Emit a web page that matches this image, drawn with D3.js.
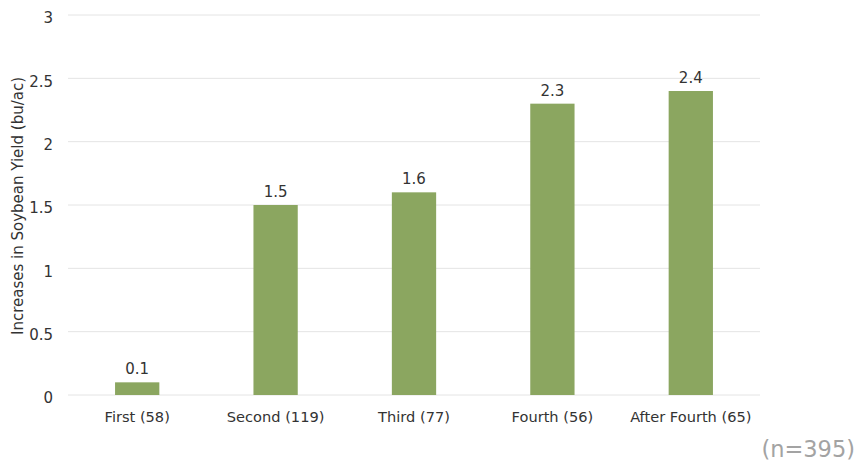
<!DOCTYPE html>
<html>
<head>
<meta charset="utf-8">
<script src="https://cdn.jsdelivr.net/npm/d3@7"></script>
<style>
  body { margin: 0; background: #fff; }
</style>
</head>
<body>
<svg id="chart" width="857" height="464"></svg>
<script>
/* soybean yield increase by year */

const categories = ["First (58)", "Second (119)", "Third (77)", "Fourth (56)", "After Fourth (65)"];
const yieldValues = [0.1, 1.5, 1.6, 2.3, 2.4];
const yTicks = [0, 0.5, 1, 1.5, 2, 2.5, 3];

const svg = d3.select("#chart");
const plotLeft = 68, plotRight = 760, plotTop = 15, plotBottom = 395;
const font = "DejaVu Sans, sans-serif";

const x = d3.scaleBand()
	.domain(categories)
	.range([plotLeft, plotRight])
	.paddingInner(0.68)
	.paddingOuter(0.34);

const y = d3.scaleLinear()
	.domain([0, 3])
	.range([plotBottom, plotTop]);

// grid
svg.append("g")
	.selectAll("line")
	.data(yTicks)
	.join("line")
	.attr("x1", plotLeft)
	.attr("x2", plotRight)
	.attr("y1", d => y(d))
	.attr("y2", d => y(d))
	.attr("stroke", "#e4e4e4")
	.attr("stroke-width", 1);

// y axis labels
const yAxis = svg.append("g")
	.attr("transform", `translate(${plotLeft - 15},3)`)
	.call(d3.axisLeft(y).tickValues(yTicks).tickSize(0).tickPadding(0).tickFormat(d3.format("")));
yAxis.select(".domain").remove();
yAxis.selectAll("text")
	.attr("font-family", font)
	.attr("font-size", 15)
	.attr("fill", "#333");

// x axis labels
const xAxis = svg.append("g")
	.attr("transform", `translate(0,${plotBottom})`)
	.call(d3.axisBottom(x).tickSize(0).tickPadding(17));
xAxis.select(".domain").remove();
xAxis.selectAll("text")
	.attr("font-family", font)
	.attr("font-size", 14.6)
	.attr("fill", "#333");

// bars
svg.append("g")
	.selectAll("rect")
	.data(yieldValues)
	.join("rect")
	.attr("x", (d, i) => x(categories[i]))
	.attr("y", d => y(d))
	.attr("width", x.bandwidth())
	.attr("height", d => y(0) - y(d))
	.attr("fill", "#8ba660");

// value labels
svg.append("g")
	.selectAll("text")
	.data(yieldValues)
	.join("text")
	.attr("x", (d, i) => x(categories[i]) + x.bandwidth() / 2)
	.attr("y", d => y(d) - 8)
	.attr("text-anchor", "middle")
	.attr("font-family", font)
	.attr("font-size", 15)
	.attr("fill", "#333")
	.text(d => d);

// y title
svg.append("text")
	.attr("transform", "translate(23,206) rotate(-90)")
	.attr("text-anchor", "middle")
	.attr("font-family", font)
	.attr("font-size", 15)
	.attr("fill", "#333")
	.text("Increases in Soybean Yield (bu/ac)");

// sample size
svg.append("text")
	.attr("x", 855)
	.attr("y", 457)
	.attr("text-anchor", "end")
	.attr("font-family", font)
	.attr("font-size", 22.5)
	.attr("fill", "#a3a3a3")
	.text("(n=395)");
</script>
</body>
</html>
